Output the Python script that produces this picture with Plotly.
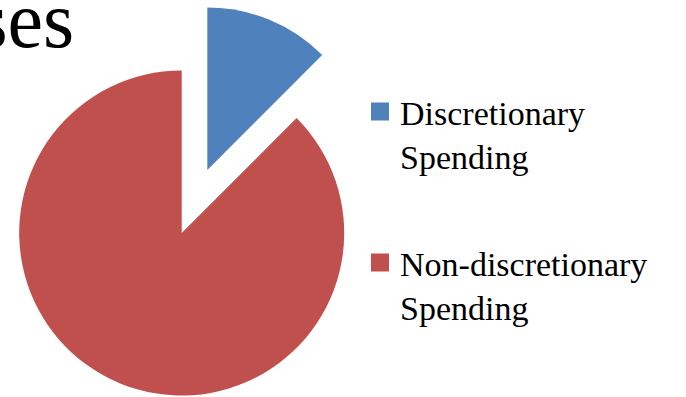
import plotly.graph_objects as go

labels = ["Discretionary Spending", "Non-discretionary Spending"]
legend_names = ["Discretionary<br>Spending", "Non-discretionary<br>Spending"]
values = [12.5, 87.5]
colors = ["#4F81BD", "#C0504D"]
title_text = "Expenses"

W, H = 686, 397
TRANSPARENT = "rgba(0,0,0,0)"


def px_dom(cx, cy, r):
    return dict(x=[(cx - r) / W, (cx + r) / W], y=[1 - (cy + r) / H, 1 - (cy - r) / H])


fig = go.Figure()

# main (non-discretionary) pie
fig.add_trace(go.Pie(
    labels=labels, values=values, sort=False, direction="clockwise", rotation=0,
    marker=dict(colors=[TRANSPARENT, colors[1]], line=dict(width=0)),
    textinfo="none", hoverinfo="skip", showlegend=False,
    domain=px_dom(181.7, 233.0, 162.5),
))
# exploded (discretionary) slice
fig.add_trace(go.Pie(
    labels=labels, values=values, sort=False, direction="clockwise", rotation=0,
    marker=dict(colors=[colors[0], TRANSPARENT], line=dict(width=0)),
    textinfo="none", hoverinfo="skip", showlegend=False,
    domain=px_dom(207.3, 170.0, 162.5),
))

# legend entries
for i, (name, col) in enumerate(zip(legend_names, colors)):
    fig.add_trace(go.Scatter(
        x=[None], y=[None], mode="markers", name=name,
        marker=dict(symbol="square", size=16, color=col, line=dict(width=2, color=col)),
        legend="legend" if i == 0 else "legend2", hoverinfo="skip",
    ))

legend_font = dict(family="Liberation Serif, Times New Roman, serif", size=34, color="black")
fig.update_layout(
    width=W, height=H,
    margin=dict(l=0, r=0, t=0, b=0),
    paper_bgcolor="white", plot_bgcolor="white",
    xaxis=dict(visible=False), yaxis=dict(visible=False),
    legend=dict(x=360 / W, y=1 - 83 / H, xanchor="left", yanchor="top",
                font=legend_font, valign="top", bgcolor="rgba(0,0,0,0)"),
    legend2=dict(x=360 / W, y=1 - 234 / H, xanchor="left", yanchor="top",
                 font=legend_font, valign="top", bgcolor="rgba(0,0,0,0)"),
    annotations=[dict(
        text=title_text, xref="paper", yref="paper", x=76 / W, y=1,
        xanchor="right", yanchor="top", showarrow=False, yshift=26,
        font=dict(family="Liberation Serif, Times New Roman, serif", size=80, color="black"),
    )],
)

fig.write_html("out.html")
